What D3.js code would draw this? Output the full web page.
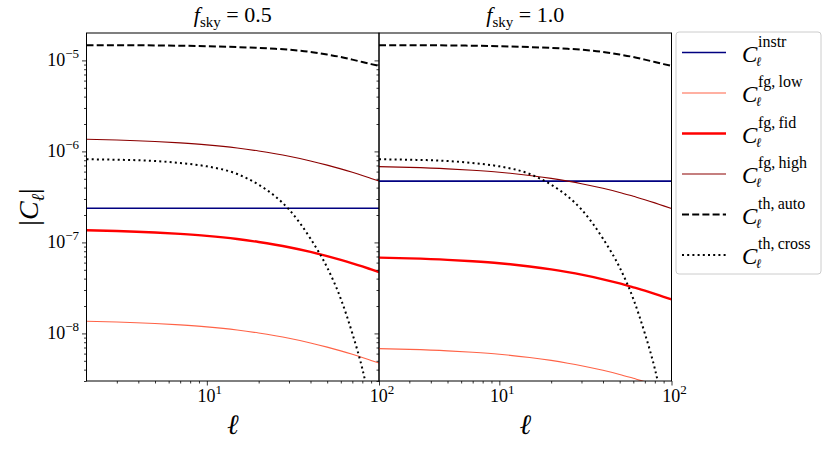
<!DOCTYPE html>
<html>
<head>
<meta charset="utf-8">
<script src="https://cdn.jsdelivr.net/npm/d3@7"></script>
<style>
  body { margin: 0; background: #fff; }
  svg, svg text, svg tspan { font-family: "Liberation Serif", "DejaVu Serif", serif; fill: #000; }
  svg .ell { font-family: "DejaVu Serif", serif; }
</style>
</head>
<body>
<svg id="chart" width="830" height="449"></svg>
<script>
// multipoles
var ells = [2, 3, 5, 7, 10, 15, 20, 25, 30, 40, 50, 60, 70, 80, 90, 100];

// f_sky = 0.5 panel
var fgLowHalf  = [1.36e-8, 1.335e-8, 1.285e-8, 1.24e-8, 1.18e-8, 1.09e-8, 1.01e-8, 9.42e-9, 8.84e-9, 7.86e-9, 7.07e-9, 6.43e-9, 5.89e-9, 5.44e-9, 5.05e-9, 4.72e-9];
var fgFidHalf  = [1.36e-7, 1.335e-7, 1.285e-7, 1.24e-7, 1.18e-7, 1.09e-7, 1.01e-7, 9.42e-8, 8.84e-8, 7.86e-8, 7.07e-8, 6.43e-8, 5.89e-8, 5.44e-8, 5.05e-8, 4.72e-8];
var fgHighHalf = [1.36e-6, 1.335e-6, 1.285e-6, 1.24e-6, 1.18e-6, 1.09e-6, 1.01e-6, 9.42e-7, 8.84e-7, 7.86e-7, 7.07e-7, 6.43e-7, 5.89e-7, 5.44e-7, 5.05e-7, 4.72e-7];
var instrHalf  = [2.37e-7, 2.37e-7, 2.37e-7, 2.37e-7, 2.37e-7, 2.37e-7, 2.37e-7, 2.37e-7, 2.37e-7, 2.37e-7, 2.37e-7, 2.37e-7, 2.37e-7, 2.37e-7, 2.37e-7, 2.37e-7];

// f_sky = 1.0 panel
var fgLowFull  = [6.8e-9, 6.67e-9, 6.43e-9, 6.2e-9, 5.9e-9, 5.44e-9, 5.05e-9, 4.71e-9, 4.42e-9, 3.93e-9, 3.54e-9, 3.21e-9, 2.95e-9, 2.72e-9, 2.52e-9, 2.36e-9];
var fgFidFull  = [6.8e-8, 6.67e-8, 6.43e-8, 6.2e-8, 5.9e-8, 5.44e-8, 5.05e-8, 4.71e-8, 4.42e-8, 3.93e-8, 3.54e-8, 3.21e-8, 2.95e-8, 2.72e-8, 2.52e-8, 2.36e-8];
var fgHighFull = [6.8e-7, 6.67e-7, 6.43e-7, 6.2e-7, 5.9e-7, 5.44e-7, 5.05e-7, 4.71e-7, 4.42e-7, 3.93e-7, 3.54e-7, 3.21e-7, 2.95e-7, 2.72e-7, 2.52e-7, 2.36e-7];
var instrFull  = [4.72e-7, 4.72e-7, 4.72e-7, 4.72e-7, 4.72e-7, 4.72e-7, 4.72e-7, 4.72e-7, 4.72e-7, 4.72e-7, 4.72e-7, 4.72e-7, 4.72e-7, 4.72e-7, 4.72e-7, 4.72e-7];

// theory, same in both panels
var thAuto  = [1.47e-5, 1.47e-5, 1.46e-5, 1.45e-5, 1.43e-5, 1.40e-5, 1.37e-5, 1.34e-5, 1.31e-5, 1.24e-5, 1.16e-5, 1.09e-5, 1.02e-5, 9.6e-6, 9.1e-6, 8.7e-6];
var thCross = [8.2e-7, 8.1e-7, 7.85e-7, 7.45e-7, 6.85e-7, 5.65e-7, 4.3e-7, 3.2e-7, 2.3e-7, 1.1e-7, 5.3e-8, 2.4e-8, 1.0e-8, 4.1e-9, 1.5e-9, 6e-10];

var panelTitles = ["0.5", "1.0"];
var yMajor = [1e-5, 1e-6, 1e-7, 1e-8];
var yExps = ["\u22125", "\u22126", "\u22127", "\u22128"];
var xMajor = [10, 100];
var xExps = ["1", "2"];
var legendSups = ["instr", "fg,\u2009low", "fg,\u2009fid", "fg,\u2009high", "th,\u2009auto", "th,\u2009cross"];

var styles = [
  {color: "#000080", width: 1.6, dash: null},
  {color: "#ff6347", width: 1.1, dash: null},
  {color: "#ff0000", width: 2.4, dash: null},
  {color: "#8b0000", width: 1.1, dash: null},
  {color: "#000000", width: 2.0, dash: "7,3.2"},
  {color: "#000000", width: 2.0, dash: "2,3.2"}
];

var panels = [
  {title: panelTitles[0], series: [instrHalf, fgLowHalf, fgFidHalf, fgHighHalf, thAuto, thCross]},
  {title: panelTitles[1], series: [instrFull, fgLowFull, fgFidFull, fgHighFull, thAuto, thCross]}
];

var svg = d3.select("#chart");
var yTop = 33, yBot = 381, pw = 292.5, left0 = 86.5;

var y = d3.scaleLog().domain([3e-9, 2e-5]).range([yBot, yTop]);

function minors(lo, hi) {
  var out = [];
  for (var e = lo; e <= hi; e++) {
    for (var k = 2; k <= 9; k++) out.push(k * Math.pow(10, e));
  }
  return out;
}

panels.forEach(function(p, i) {
  var x0 = left0 + i * pw;
  var x = d3.scaleLog().domain([2, 100]).range([x0, x0 + pw]);
  var g = svg.append("g");

  g.append("clipPath").attr("id", "clip" + i)
    .append("rect").attr("x", x0).attr("y", yTop).attr("width", pw).attr("height", yBot - yTop);

  var line = d3.line()
    .x(function(d) { return x(d[0]); })
    .y(function(d) { return y(d[1]); })
    .curve(d3.curveMonotoneX);

  p.series.forEach(function(vals, j) {
    var s = styles[j];
    g.append("path")
      .attr("clip-path", "url(#clip" + i + ")")
      .attr("d", line(ells.map(function(l, k) { return [l, vals[k]]; })))
      .attr("fill", "none")
      .attr("stroke", s.color)
      .attr("stroke-width", s.width)
      .attr("stroke-dasharray", s.dash);
  });

  // axes
  var xMin = g.append("g").attr("transform", "translate(0," + yBot + ")")
    .call(d3.axisBottom(x).tickValues(minors(0, 1).filter(function(v) { return v > 2 && v < 100; })).tickSize(2.5).tickFormat(""));
  var xMaj = g.append("g").attr("transform", "translate(0," + yBot + ")")
    .call(d3.axisBottom(x).tickValues(xMajor).tickSize(4.5).tickFormat(""));
  var yMin = g.append("g").attr("transform", "translate(" + x0 + ",0)")
    .call(d3.axisLeft(y).tickValues(minors(-9, -6).filter(function(v) { return v > 3e-9 && v < 2e-5; })).tickSize(2.5).tickFormat(""));
  var yMaj = g.append("g").attr("transform", "translate(" + x0 + ",0)")
    .call(d3.axisLeft(y).tickValues(yMajor).tickSize(4.5).tickFormat(""));
  [xMin, xMaj, yMin, yMaj].forEach(function(a) {
    a.select(".domain").remove();
    a.selectAll("line").attr("stroke", "#000").attr("stroke-width", 0.8);
  });

  g.append("rect").attr("x", x0).attr("y", yTop).attr("width", pw).attr("height", yBot - yTop)
    .attr("fill", "none").attr("stroke", "#000").attr("stroke-width", 1);

  // x tick labels
  xMajor.forEach(function(v, k) {
    var t = g.append("text").attr("x", x(v) + 3).attr("y", yBot + 21)
      .attr("text-anchor", "middle").attr("font-size", 18);
    t.append("tspan").text("10");
    t.append("tspan").attr("font-size", 13).attr("dy", -8).text(xExps[k]);
  });

  // title
  var tt = g.append("text").attr("x", x0 + pw / 2).attr("y", 22)
    .attr("text-anchor", "middle").attr("font-size", 22);
  tt.append("tspan").attr("font-style", "italic").text("f");
  tt.append("tspan").attr("font-size", 15).attr("dy", 5).text("sky");
  tt.append("tspan").attr("dy", -5).text(" = " + p.title);

  // x label
  g.append("text").attr("class", "ell").attr("x", x0 + pw / 2).attr("y", 434)
    .attr("text-anchor", "middle").attr("font-size", 28).attr("font-style", "italic").text("\u2113");
});

// y tick labels, left panel only
yMajor.forEach(function(v, k) {
  var t = svg.append("text").attr("x", 79).attr("y", y(v) + 5.5)
    .attr("text-anchor", "end").attr("font-size", 18);
  t.append("tspan").text("10");
  t.append("tspan").attr("font-size", 13).attr("dy", -8).text(yExps[k]);
});

// y label
var yl = svg.append("text").attr("transform", "translate(38,207) rotate(-90)")
  .attr("text-anchor", "middle").attr("font-size", 28);
yl.append("tspan").text("|");
yl.append("tspan").attr("font-style", "italic").text("C");
yl.append("tspan").attr("class", "ell").attr("font-size", 18).attr("font-style", "italic").attr("dy", 6).text("\u2113");
yl.append("tspan").attr("dy", -6).text("|");

// legend
var lg = svg.append("g");
lg.append("rect").attr("x", 676).attr("y", 32).attr("width", 145).attr("height", 242)
  .attr("rx", 3).attr("fill", "#fff").attr("stroke", "#cccccc").attr("stroke-width", 1);
legendSups.forEach(function(sup, j) {
  var ly = 52.5 + j * 40.5;
  var s = styles[j];
  lg.append("line").attr("x1", 682).attr("x2", 726).attr("y1", ly).attr("y2", ly)
    .attr("stroke", s.color).attr("stroke-width", s.width).attr("stroke-dasharray", s.dash);
  lg.append("text").attr("x", 742).attr("y", ly + 9).attr("font-size", 23).attr("font-style", "italic").text("C");
  lg.append("text").attr("class", "ell").attr("x", 756).attr("y", ly + 13).attr("font-size", 13).attr("font-style", "italic").text("\u2113");
  lg.append("text").attr("x", 758).attr("y", ly - 6).attr("font-size", 16).text(sup);
});
</script>
</body>
</html>
